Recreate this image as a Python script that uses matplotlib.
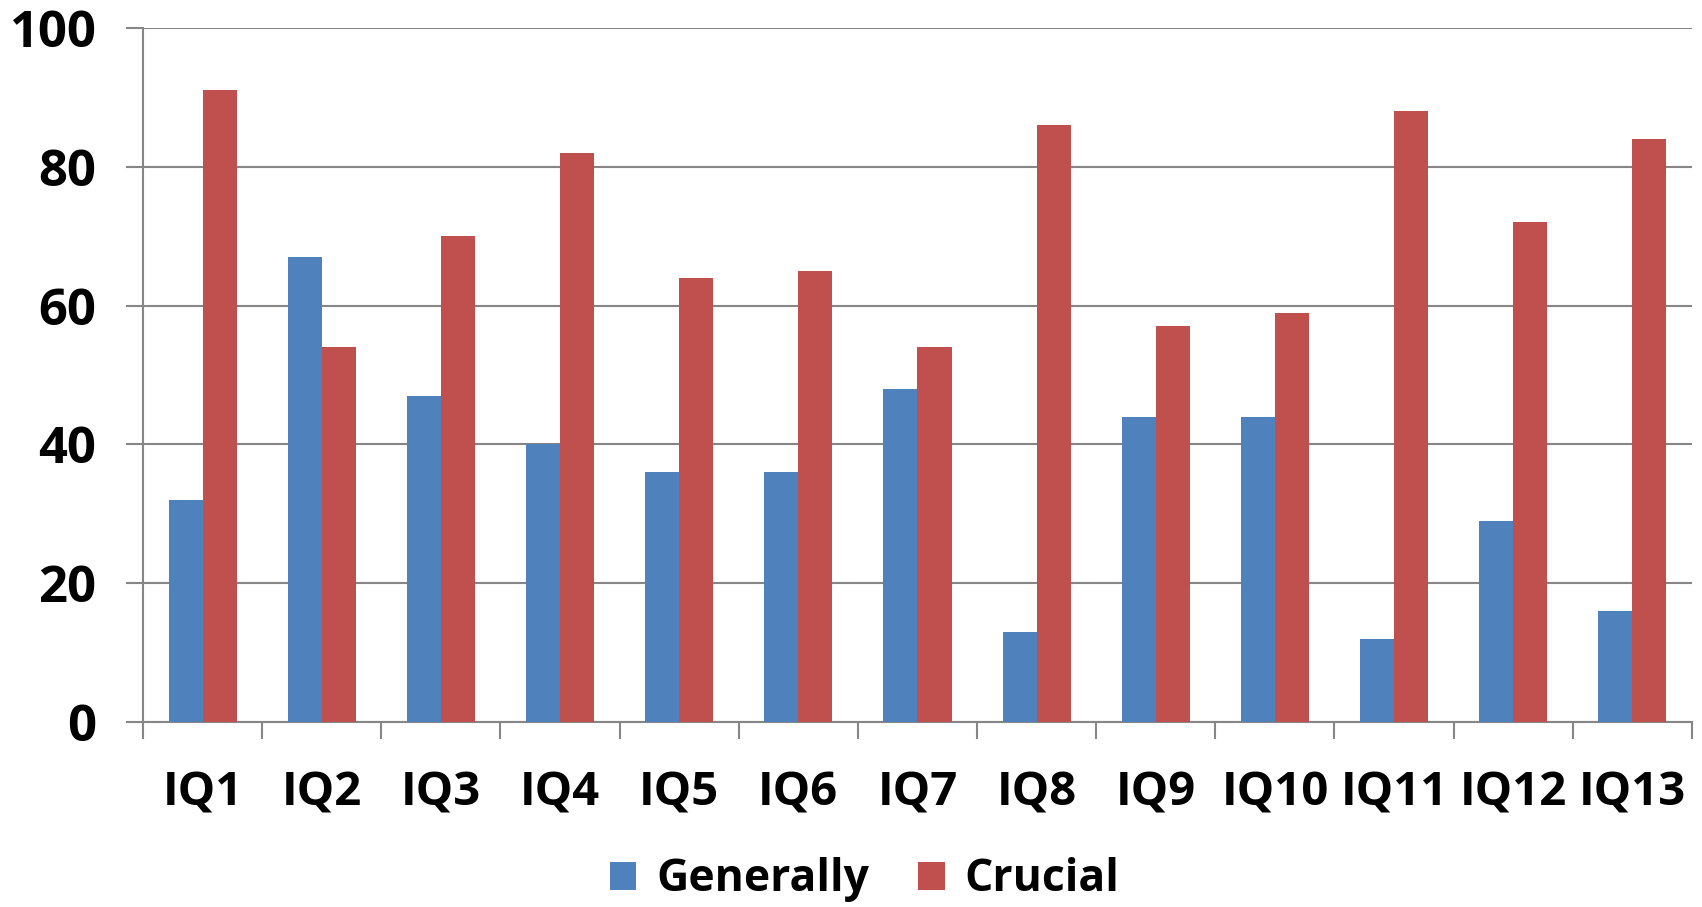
import numpy as np
import matplotlib
matplotlib.use("Agg")
import matplotlib.pyplot as plt

categories = ["IQ1", "IQ2", "IQ3", "IQ4", "IQ5", "IQ6", "IQ7",
              "IQ8", "IQ9", "IQ10", "IQ11", "IQ12", "IQ13"]
generally = [32, 67, 47, 40, 36, 36, 48, 13, 44, 44, 12, 29, 16]
crucial = [91, 54, 70, 82, 64, 65, 54, 86, 57, 59, 88, 72, 84]

plt.rcParams['font.family'] = ['Open Sans', 'DejaVu Sans']
plt.rcParams['font.weight'] = 'bold'

grey = '#868686'
fig = plt.figure(figsize=(17.02, 9.07), dpi=100)
ax = fig.add_axes([0.084, 0.204, 0.9101, 0.7651])

x = np.arange(len(categories))
w = 1 / 3.5
ax.bar(x - w / 2, generally, w, color='#4F81BD', label='Generally', zorder=3)
ax.bar(x + w / 2, crucial, w, color='#C0504D', label='Crucial', zorder=3)

ax.set_xlim(-0.5, len(categories) - 0.5)
ax.set_ylim(0, 100)
ax.set_yticks([0, 20, 40, 60, 80, 100])
ax.yaxis.grid(True, color=grey, linewidth=1.5, zorder=0)

# category boundaries get the tick marks, centres get the labels
ax.set_xticks(np.arange(len(categories) + 1) - 0.5)
ax.set_xticklabels([])
ax.set_xticks(x, minor=True)
ax.set_xticklabels(categories, minor=True)
ax.tick_params(axis='x', which='major', length=12, width=1.5, color=grey, direction='out')
ax.tick_params(axis='x', which='minor', length=0, pad=34, labelsize=34)
ax.tick_params(axis='y', length=12, width=1.5, color=grey, pad=22, labelsize=36.5)

for s in ['top', 'right']:
    ax.spines[s].set_visible(False)
for s in ['left', 'bottom']:
    ax.spines[s].set_color(grey)
    ax.spines[s].set_linewidth(1.5)

fig.legend(loc='center', bbox_to_anchor=(0.508, 0.03), ncol=2, frameon=False,
           fontsize=32, handlelength=0.6, handleheight=0.6, handletextpad=0.45,
           columnspacing=1.1)

fig.savefig('out.png', dpi=100)
